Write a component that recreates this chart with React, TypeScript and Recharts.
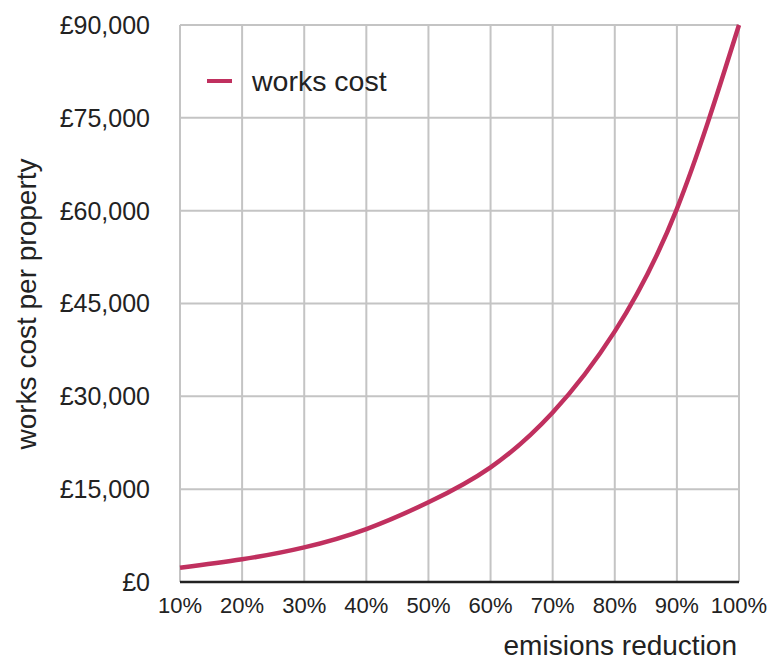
import { LineChart, Line, XAxis, YAxis, CartesianGrid, Legend } from "recharts";

// emissions reduction (%) and the works cost per property
const REDUCTION = [10, 20, 30, 40, 50, 60, 70, 80, 90, 100];
const WORKS_COST = [2300, 3670, 5600, 8560, 12880, 18530, 27400, 40500, 60300, 90000];
const X_TICKS = [10, 20, 30, 40, 50, 60, 70, 80, 90, 100];
const Y_TICKS = [0, 15000, 30000, 45000, 60000, 75000, 90000];

const LINE_COLOR = "#c0305f";
const TEXT_COLOR = "#222";

const data = REDUCTION.map((r, i) => ({ reduction: r, cost: WORKS_COST[i] }));

const formatPounds = (v: number) => "£" + v.toLocaleString("en-GB");

function XTitle() {
  return (
    <text x={737} y={655} textAnchor="end" fontSize={28} fill={TEXT_COLOR}>
      emisions reduction
    </text>
  );
}

function YTitle() {
  return (
    <text
      x={36}
      y={304}
      textAnchor="middle"
      fontSize={28}
      fill={TEXT_COLOR}
      transform="rotate(-90, 36, 304)"
    >
      works cost per property
    </text>
  );
}

function LegendBox({ payload }: any) {
  return (
    <div>
      {(payload || []).map((item: any) => (
        <div key={item.value} style={{ display: "flex", alignItems: "center", lineHeight: "28px" }}>
          <span
            style={{ display: "inline-block", width: 25, height: 4, background: item.color, marginRight: 20 }}
          />
          <span style={{ fontSize: 28.5, color: TEXT_COLOR }}>{item.value}</span>
        </div>
      ))}
    </div>
  );
}

export default function App() {
  return (
    <div
      style={{
        position: "absolute",
        left: 0,
        top: 0,
        background: "#fff",
        fontFamily: "'Liberation Sans', Arial, sans-serif",
      }}
    >
      <LineChart width={770} height={663} data={data} margin={{ top: 25, right: 31, bottom: 0, left: 0 }}>
        <CartesianGrid stroke="#c4c4c4" strokeWidth={2} />
        <XAxis
          dataKey="reduction"
          type="number"
          domain={[10, 100]}
          ticks={X_TICKS}
          tickFormatter={(v) => `${v}%`}
          height={81}
          tickLine={false}
          tickSize={0}
          tickMargin={15}
          axisLine={{ stroke: "#222", strokeWidth: 2.5 }}
          tick={{ fontSize: 22, fill: TEXT_COLOR }}
          interval={0}
          label={<XTitle />}
        />
        <YAxis
          type="number"
          domain={[0, 90000]}
          ticks={Y_TICKS}
          tickFormatter={formatPounds}
          width={180}
          axisLine={false}
          tickLine={false}
          tickSize={0}
          tickMargin={30}
          tick={{ fontSize: 25, fill: TEXT_COLOR }}
          interval={0}
          label={<YTitle />}
        />
        <Legend
          layout="horizontal"
          verticalAlign="middle"
          align="center"
          content={<LegendBox />}
          wrapperStyle={{ position: "absolute", left: 207, top: 67, width: "auto" }}
        />
        <Line
          type="natural"
          dataKey="cost"
          name="works cost"
          stroke={LINE_COLOR}
          strokeWidth={4.5}
          dot={false}
          isAnimationActive={false}
        />
      </LineChart>
    </div>
  );
}
